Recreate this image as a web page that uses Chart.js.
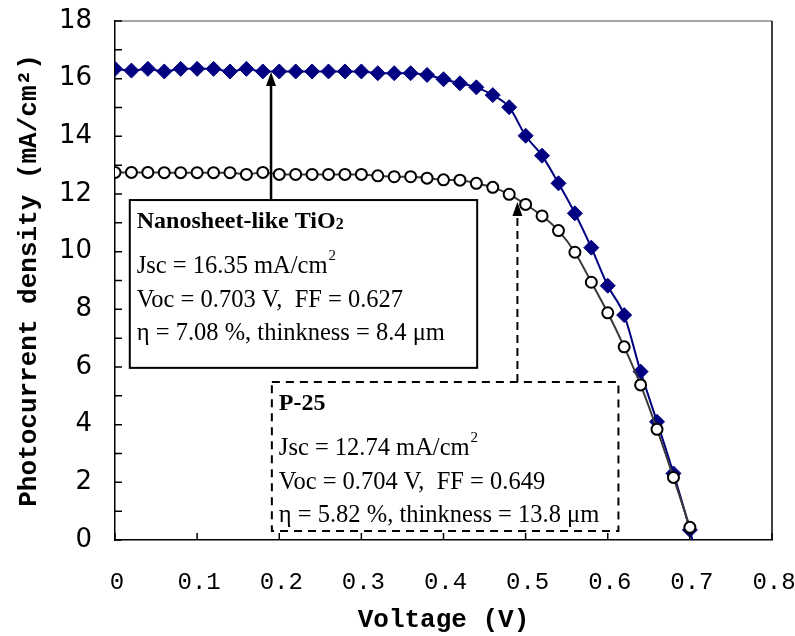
<!DOCTYPE html>
<html>
<head>
<meta charset="utf-8">
<script src="https://cdn.jsdelivr.net/npm/chart.js@4.4.0/dist/chart.umd.min.js"></script>
<style>
  body { margin: 0; background: #fff; }
  #wrap { width: 795px; height: 636px; }
</style>
</head>
<body>
<div id="wrap"><canvas id="ivChart"></canvas></div>
<script>
// I-V data (V, mA/cm2)
const voltage = [0.00, 0.02, 0.04, 0.06, 0.08, 0.10, 0.12, 0.14, 0.16, 0.18, 0.20, 0.22,
                 0.24, 0.26, 0.28, 0.30, 0.32, 0.34, 0.36, 0.38, 0.40, 0.42, 0.44, 0.46,
                 0.48, 0.50, 0.52, 0.54, 0.56, 0.58, 0.60, 0.62, 0.64, 0.66, 0.68, 0.70];
const nanosheetJ = [16.34, 16.28, 16.34, 16.25, 16.34, 16.34, 16.34, 16.25, 16.34, 16.25, 16.25, 16.25,
                    16.25, 16.25, 16.25, 16.25, 16.19, 16.19, 16.19, 16.13, 15.98, 15.84, 15.70, 15.43,
                    15.01, 14.02, 13.33, 12.37, 11.33, 10.14, 8.82, 7.80, 5.84, 4.10, 2.31, 0.35];
const p25J = [12.75, 12.75, 12.75, 12.74, 12.74, 12.74, 12.74, 12.74, 12.68, 12.75, 12.68, 12.68,
              12.68, 12.68, 12.68, 12.68, 12.63, 12.60, 12.60, 12.55, 12.49, 12.48, 12.37, 12.23,
              11.99, 11.64, 11.24, 10.73, 9.98, 8.94, 7.88, 6.70, 5.38, 3.84, 2.17, 0.44];
const nanosheetVoc = 0.703;

const xTicks = [0, 0.1, 0.2, 0.3, 0.4, 0.5, 0.6, 0.7, 0.8];
const yTicks = [0, 2, 4, 6, 8, 10, 12, 14, 16, 18];

const nanosheetLines = ['Jsc = 16.35 mA/cm', 'Voc = 0.703 V,  FF = 0.627', '\u03b7 = 7.08 %, thinkness = 8.4 \u03bcm'];
const p25Lines = ['Jsc = 12.74 mA/cm', 'Voc = 0.704 V,  FF = 0.649', '\u03b7 = 5.82 %, thinkness = 13.8 \u03bcm'];

const nanosheetPts = voltage.map((v, i) => ({ x: v, y: nanosheetJ[i] }));
nanosheetPts.push({ x: nanosheetVoc, y: 0 });
const p25Pts = voltage.map((v, i) => ({ x: v, y: p25J[i] }));

const serif = "'Liberation Serif', 'Times New Roman', serif";
const mono = "'Liberation Mono', 'Courier New', monospace";

function drawArrow(ctx, x, yFrom, yTo, dashed) {
    ctx.save();
    ctx.strokeStyle = '#000';
    ctx.fillStyle = '#000';
    ctx.lineWidth = dashed ? 2 : 2.5;
    ctx.setLineDash(dashed ? [8, 5] : []);
    ctx.beginPath();
    ctx.moveTo(x, yFrom);
    ctx.lineTo(x, yTo + 12);
    ctx.stroke();
    ctx.setLineDash([]);
    ctx.beginPath();
    ctx.moveTo(x, yTo);
    ctx.lineTo(x - 5, yTo + 14);
    ctx.lineTo(x + 5, yTo + 14);
    ctx.closePath();
    ctx.fill();
    ctx.restore();
}

function drawInfoBox(ctx, chart, box) {
    const { x, y } = chart.scales;
    const left = x.getPixelForValue(box.x0);
    const right = x.getPixelForValue(box.x1);
    const top = y.getPixelForValue(box.yTop);
    const bottom = y.getPixelForValue(box.yBottom);

    ctx.save();
    ctx.fillStyle = '#fff';
    ctx.fillRect(left, top, right - left, bottom - top);
    ctx.strokeStyle = '#000';
    ctx.lineWidth = 2;
    ctx.setLineDash(box.dashed ? [8, 6] : []);
    ctx.strokeRect(left, top, right - left, bottom - top);
    ctx.setLineDash([]);

    ctx.fillStyle = '#000';
    ctx.textBaseline = 'alphabetic';
    ctx.textAlign = 'left';
    const tx = left + 7;
    ctx.font = 'bold 24px ' + serif;
    ctx.fillText(box.title, tx, top + 28);
    if (box.sub) {
        const w = ctx.measureText(box.title).width;
        ctx.font = 'bold 16px ' + serif;
        ctx.fillText(box.sub, tx + w, top + 29);
    }
    const offsets = [73, 107, 140];
    box.lines.forEach((line, i) => {
        ctx.font = '24.5px ' + serif;
        ctx.fillText(line, tx, top + offsets[i]);
        if (i === 0) {
            const w = ctx.measureText(line).width;
            ctx.font = '15px ' + serif;
            ctx.fillText('2', tx + w + 1, top + offsets[i] - 13);
        }
    });
    ctx.restore();

    drawArrow(ctx, x.getPixelForValue(box.arrowX), top, y.getPixelForValue(box.arrowTip), box.dashed);
}

const annotations = [
    { title: 'Nanosheet-like TiO', sub: '2', lines: nanosheetLines, dashed: false,
      x0: 0.018, x1: 0.441, yTop: 11.79, yBottom: 5.97, arrowX: 0.190, arrowTip: 16.23 },
    { title: 'P-25', sub: '', lines: p25Lines, dashed: true,
      x0: 0.191, x1: 0.613, yTop: 5.48, yBottom: 0.31, arrowX: 0.490, arrowTip: 11.72 }
];

const framePlugin = {
    id: 'frame',
    afterDraw(chart) {
        const { ctx, chartArea: a, scales: { x, y } } = chart;
        ctx.save();
        // top and right border of the plot area
        ctx.strokeStyle = '#888';
        ctx.lineWidth = 1.5;
        ctx.beginPath();
        ctx.moveTo(a.left, a.top);
        ctx.lineTo(a.right, a.top);
        ctx.stroke();
        ctx.strokeStyle = '#000';
        ctx.beginPath();
        ctx.moveTo(a.right, a.top);
        ctx.lineTo(a.right, a.bottom);
        ctx.stroke();

        // inward tick marks
        ctx.lineWidth = 1.5;
        ctx.beginPath();
        for (let v = 0; v <= 18; v += 1) {
            const py = y.getPixelForValue(v);
            ctx.moveTo(a.left, py);
            ctx.lineTo(a.left + 7, py);
        }
        xTicks.forEach(v => {
            const px = x.getPixelForValue(v);
            ctx.moveTo(px, a.bottom);
            ctx.lineTo(px, a.bottom - 7);
        });
        ctx.stroke();
        ctx.restore();

        annotations.forEach(b => drawInfoBox(ctx, chart, b));
    }
};

const ctx = document.getElementById('ivChart').getContext('2d');
new Chart(ctx, {
    type: 'line',
    data: {
        datasets: [{
            label: 'P-25',
            data: p25Pts,
            borderColor: '#3a3a3a',
            borderWidth: 2,
            pointStyle: 'circle',
            pointRadius: 5.5,
            pointBorderWidth: 2,
            pointBorderColor: '#000',
            pointBackgroundColor: '#fff',
            cubicInterpolationMode: 'monotone',
            fill: false
        }, {
            label: 'Nanosheet-like TiO2',
            data: nanosheetPts,
            borderColor: '#000080',
            borderWidth: 2,
            pointStyle: 'rectRot',
            pointRadius: nanosheetPts.map((p, i) => i === nanosheetPts.length - 1 ? 0 : 7.5),
            pointBorderWidth: 1,
            pointBorderColor: '#000080',
            pointBackgroundColor: '#000080',
            cubicInterpolationMode: 'monotone',
            fill: false
        }]
    },
    options: {
        responsive: true,
        maintainAspectRatio: false,
        animation: false,
        events: [],
        layout: { padding: { top: 21, right: 23, left: 0, bottom: 0 } },
        plugins: {
            legend: { display: false },
            tooltip: { enabled: false }
        },
        scales: {
            x: {
                type: 'linear',
                min: 0,
                max: 0.8,
                afterBuildTicks: s => { s.ticks = xTicks.map(v => ({ value: v })); },
                afterFit: s => { s.height = 96; },
                // invisible tick marks push the labels down without adding side padding
                grid: { drawOnChartArea: false, drawTicks: true, tickLength: 28, tickColor: 'rgba(0,0,0,0)' },
                border: { display: true, color: '#000', width: 1.5 },
                ticks: {
                    padding: 0,
                    color: '#000',
                    maxRotation: 0,
                    labelOffset: 2,
                    font: { family: mono, size: 24 },
                    callback: v => v === 0 ? '0' : v.toFixed(1)
                },
                title: {
                    display: true,
                    text: 'Voltage (V)',
                    color: '#000',
                    padding: 0,
                    font: { family: mono, size: 26, weight: 'bold' }
                }
            },
            y: {
                min: 0,
                max: 18,
                afterBuildTicks: s => { s.ticks = yTicks.map(v => ({ value: v })); },
                afterFit: s => { s.width = 115; },
                grid: { drawOnChartArea: false, drawTicks: true, tickLength: 23, tickColor: 'rgba(0,0,0,0)' },
                border: { display: true, color: '#000', width: 1.5 },
                ticks: {
                    padding: 0,
                    color: '#000',
                    font: { family: "'DejaVu Sans', sans-serif", size: 26 }
                },
                title: {
                    display: true,
                    text: 'Photocurrent density (mA/cm\u00b2)',
                    color: '#000',
                    padding: { top: 14, bottom: 0 },
                    font: { family: mono, size: 26, weight: 'bold' }
                }
            }
        }
    },
    plugins: [framePlugin]
});
</script>
</body>
</html>
